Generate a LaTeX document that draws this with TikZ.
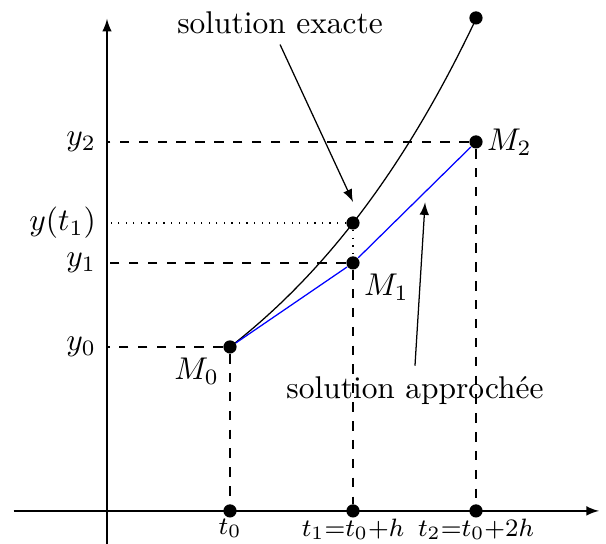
\documentclass[tikz,border=0pt]{standalone}
\usetikzlibrary{calc}
\begin{document}
\begin{tikzpicture}[x=1.375cm, y=1.375cm, >=latex,
    point/.style={circle, fill=black, inner sep=0pt, minimum size=4.2pt},
    guide/.style={dashed},
    tlbl/.style={below, font=\fontsize{8.3}{10}\selectfont, inner sep=0pt},
]
\useasboundingbox (-0.870,-0.268) rectangle (4.057,4.154);

% Axes
\coordinate (O) at (0,0);
\draw[->] (-0.76,0) -- (4,0);
\draw[->] (0,-0.3) -- (0,4);

% Points
\node[point] (M0) at (1,1.333) {};
\node[point] (M1) at (2,2.016) {};
\node[point] (M2) at (3,3) {};
\node[point] (E1) at (2,2.341) {};
\node[point] (E2) at (3,4.008) {};
\node[point] (T0) at (1,0) {};
\node[point] (T1) at (2,0) {};
\node[point] (T2) at (3,0) {};

% Solution exacte
\draw plot[domain=1:3, samples=60] (\x, {1.333+1.56*(exp(0.4984*(\x-1))-1)});

% Solution approchee
\draw[blue] (M0) -- (M1) -- (M2);

% Etiquettes sur les axes
\node[left] (ly0) at (M0 -| O) {$y_0$};
\node[left] (ly1) at (M1 -| O) {$y_1$};
\node[left] (ly2) at (M2 -| O) {$y_2$};
\node[left] (lyt1) at (E1 -| O) {$y(t_1)$};
\node[tlbl] (lt0) at (T0.south) {$t_0$};
\node[tlbl] (lt1) at (T1.south) {$t_1{=}t_0{+}h$};
\node[tlbl] (lt2) at (T2.south) {$t_2{=}t_0{+}2h$};

% Pointilles
\draw[guide] (M0) -- (ly0.east);
\draw[guide] (M1) -- (ly1.east);
\draw[guide] (M2) -- (ly2.east);
\draw[dotted] (E1) -- (lyt1.east);
\draw[dotted] (E1) -- (M1);
\draw[guide] (M0) -- (T0);
\draw[guide] (M1) -- (T1);
\draw[guide] (M2) -- (T2);

% Noms des points
\node[below left] (lm0) at (M0) {$M_0$};
\node[below right] (lm1) at (M1) {$M_1$};
\node[right] (lm2) at (M2) {$M_2$};

% Legendes
\node (lexact) at (1.407,3.972) {solution exacte};
\node (lapprox) at (2.504,0.976) {solution approchée};
\coordinate (E1tip) at ([yshift=4.4pt]E1.north);
\path (M1) -- (M2) coordinate[pos=0.6] (onapp);
\draw[->] (lexact.south) -- (E1tip);
\draw[->, shorten >=3.5pt] (lapprox.north) -- (onapp);

\end{tikzpicture}
\end{document}
